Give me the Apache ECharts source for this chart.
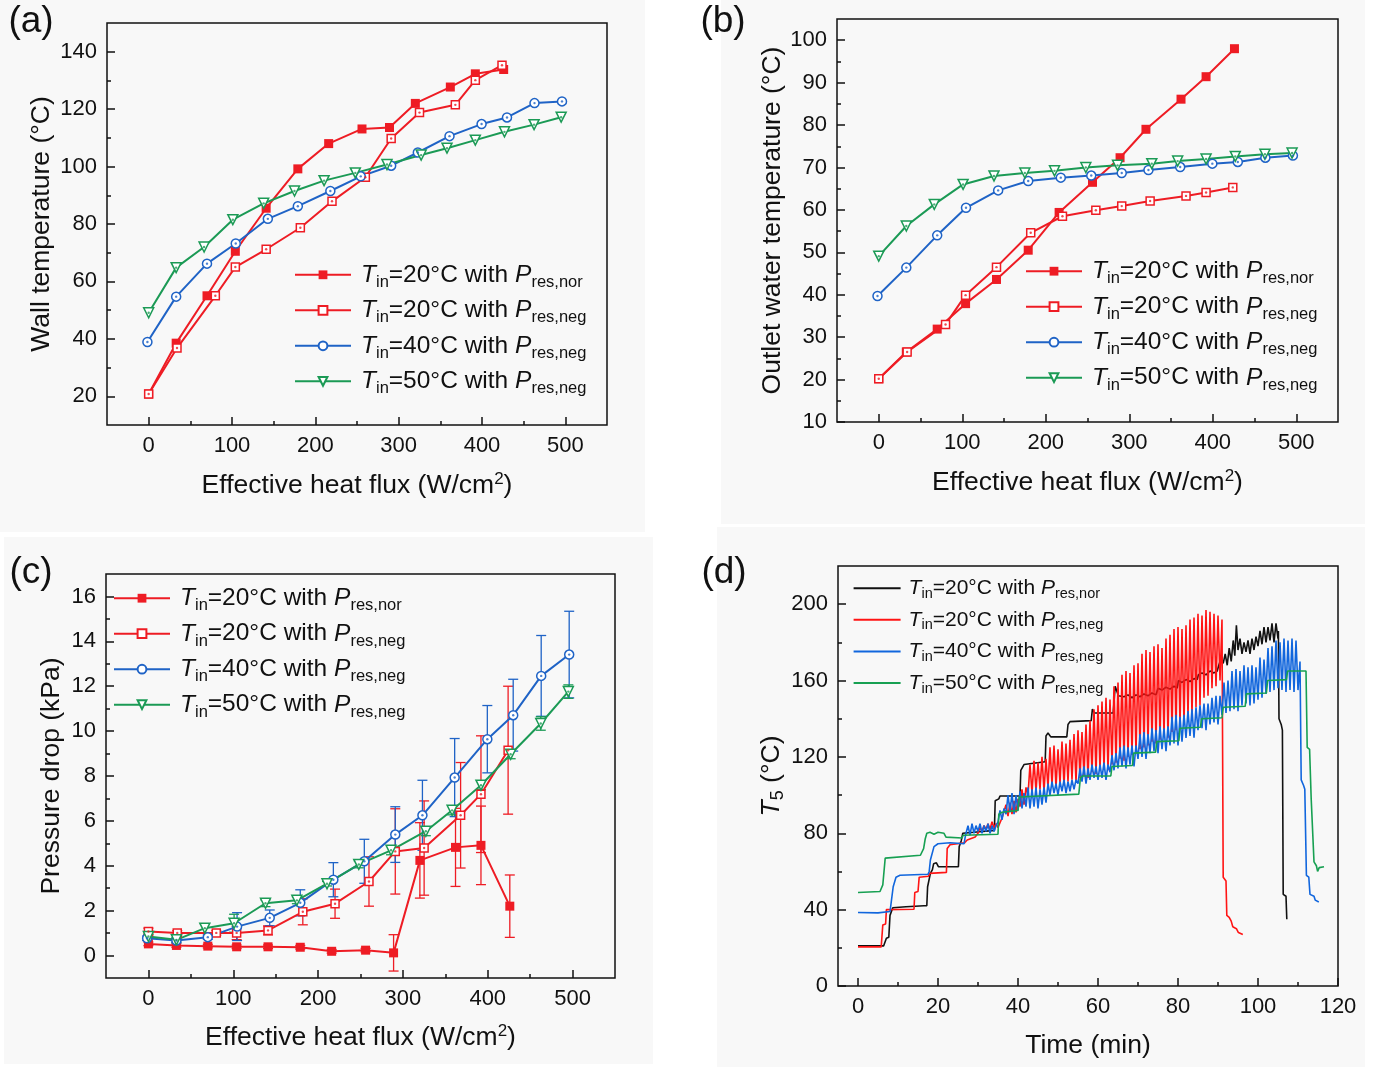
<!DOCTYPE html>
<html><head><meta charset="utf-8">
<script src="https://cdn.jsdelivr.net/npm/echarts@6/dist/echarts.min.js"></script>
<style>html,body{margin:0;padding:0;background:#fff}#c{width:1377px;height:1067px}</style>
</head><body><div id="c"></div>
<script>
// ---------------- DATA ----------------
// heat flux (W/cm2) for each test series
const qNor   = [0,33,70,104,141,179,216,256,289,320,362,392,426];
const qNeg20 = [0,34,80,104,141,182,220,260,291,325,368,392,424];
const q40    = [-1.5,33,70,104.5,143,179,218,254.5,291,323,361,399.5,430,463,496];
const q50    = [0,33,66.5,101,138,175,210.5,248,286,327,358,392,427,462.5,495];

// (a) wall temperature
const aNor   = [20.8,38.5,55,70.5,85.5,99.2,108,113.1,113.6,122,127.7,132.3,133.8];
const aNeg20 = [20.8,36.8,55,65,71.2,78.7,87.9,96.3,109.8,118.8,121.5,130.1,135.3];
const a40    = [38.9,54.7,66.2,73.2,81.8,86.2,91.5,96.6,100.3,104.9,110.6,114.8,117.1,122.1,122.7];
const a50    = [49.1,64.8,72,81.5,87.2,91.5,95.1,97.8,100.7,104,106.4,109.2,112.1,114.6,117.2];

// (b) outlet water temperature
const bNor   = [20.2,26.5,31.9,37.9,43.6,50.5,59.4,66.5,72.3,79.0,86.1,91.4,98.0];
const bNeg20 = [20.2,26.5,33.0,39.9,46.5,54.6,58.5,59.9,60.9,62.1,63.3,64.1,65.3];
const b40    = [39.7,46.4,54.0,60.5,64.6,66.8,67.6,68.1,68.7,69.4,70.1,70.9,71.3,72.3,72.8];
const b50    = [49.1,56.2,61.3,66.0,68.0,68.7,69.2,70.0,70.5,70.9,71.5,72.0,72.6,73.1,73.4];

// (c) pressure drop and error (half range)
const cNor      = [0.52,0.45,0.42,0.39,0.39,0.37,0.19,0.24,0.12,4.24,4.82,4.91,2.20];
const cNorErr   = [0.08,0.08,0.08,0.08,0.08,0.08,0.08,0.08,0.81,1.68,1.74,1.75,1.39];
const cNeg20    = [1.07,1.01,1.01,1.01,1.12,1.95,2.31,3.30,4.64,4.79,6.25,7.19,9.15];
const cNeg20Err = [0.15,0.1,0.1,0.3,0.2,0.58,0.65,1.1,1.9,2.1,2.35,2.6,2.85];
const c40       = [0.77,0.67,0.82,1.29,1.68,2.35,3.38,4.2,5.39,6.25,7.93,9.64,10.71,12.46,13.41];
const c40Err    = [0.1,0.1,0.1,0.62,0.35,0.58,0.76,0.98,1.24,1.56,1.74,1.5,1.6,1.8,1.93];
const c50       = [0.85,0.7,1.22,1.44,2.33,2.46,3.2,4.06,4.69,5.54,6.47,7.59,8.97,10.34,11.76];
const c50Err    = [0.1,0.1,0.2,0.4,0.15,0.15,0.1,0.15,0.2,0.2,0.2,0.2,0.2,0.3,0.3];

// (d) T5 vs time  [min, °C]
const dBlack = [[0,21],[6.4,21],[6.7,22],[7.1,25],[7.7,25.5],[8.0,37],[8.5,38],[8.7,41],[12,41.5],[16.5,42],[17.2,42],
 [17.4,52],[17.9,53],[18.1,59],[18.6,61],[18.9,64],[19.6,64.5],[20.1,62.5],[25.1,62.5],[25.3,73],[25.8,76],[26.2,80],
 [29,80.5],[29.3,81.5],[34.1,81.5],[34.3,97],[35.2,98],[35.5,99.5],[40.5,99.5],[40.7,113],[41.5,116],[42,117],[46.8,117.5],
 [47,131],[47.5,132.5],[48.2,130.5],[52.2,130.5],[52.5,137],[53,138.5],[58.3,139],[58.6,145],[59.1,143],[63.8,143],
 [64.1,143.5],[64.3,157],[64.8,158],[65.1,152],[66.5,151.5],[67.5,152.5],[68.5,151],[69.5,152.5],[70.5,151.5],[71.5,153],
 [72.5,152],[73.5,153.5],[74.5,152.5],[75,156],[76,155],[77,156.5],[78,155.5],[79,157],[79.8,156],[80.1,160],[81,159],
 [82,160.5],[83,159.5],[84,161],[84.8,160.5],[85.1,163],[86,164],[87,163],[88,165],[89,164],[89.8,165],[90.2,168],
 [90.8,172],[91.3,169],[91.8,174],[92.3,168],[92.8,177],[93.3,170],[93.8,181],[94.2,173],[94.6,189],[95,176],[95.5,182],
 [96,174],[96.5,180],[97,175],[97.5,181],[98,174],[98.5,182],[99,176],[99.5,183],[100,178],[100.5,186],[101,179],
 [101.5,188],[102,180],[102.5,188],[103,181],[103.5,190],[104,180],[104.5,190],[105,182],[105.1,186],[105.25,140],
 [105.8,137],[106.1,134],[106.3,48],[107.0,47],[107.2,35]];

const dRed = [[0,20.5],[5.8,20.5],[6.1,21],[6.2,32],[6.9,32.5],[7.1,40],[14.0,40.2],[14.2,49],[15.0,49.5],[15.3,57],
 [17.6,57.5],[17.9,59],[22.1,59.5],[22.3,72],[23,74],[26.6,75],[27.3,76.5],[29.3,78],[30,80],
 [30.5,83],[31,81],[31.5,84],[32,82],[32.5,85],[33,82],[33.5,86],[34,83],[34.5,85],[35,83],[35.5,84],[36,88],
 [36.5,88],[37,95],[37.5,89],[38,96],[38.5,90],[39,97],[39.5,91],[40,98],
 [40.5,94],[41,103],[41.5,95],[42,104],
 [42.5,100],[43,116],[43.5,101],[44,118],[44.5,102],[45,117],
 [45.5,103],[46,120],[46.5,102],[47,119],
 [47.5,104],[48,125],[48.5,105],[49,126],[49.5,104],[50,124],
 [50.5,106],[51,128],[51.5,105],[52,127],[52.5,107],[53,129],
 [53.5,108],[54,132],[54.5,107],[55,134],[55.5,109],[56,133],
 [56.5,110],[57,137],[57.5,109],[58,139],
 [58.5,112],[59,145],[59.5,111],[60,147],
 [60.5,113],[61,149],[61.5,114],[62,151],[62.5,113],[63,150],
 [63.5,116],[64,157],[64.5,117],[65,159],
 [65.5,119],[66,163],[66.5,118],[67,165],[67.5,120],[68,164],
 [68.5,121],[69,168],[69.5,122],[70,169],
 [70.5,124],[71,174],[71.5,125],[72,176],[72.5,126],[73,175],
 [73.5,128],[74,178],[74.5,127],[75,179],[75.5,129],[76,177],
 [76.5,131],[77,182],[77.5,130],[78,184],
 [78.5,133],[79,187],[79.5,134],[80,188],
 [80.5,137],[81,187],[81.5,138],[82,189],
 [82.5,141],[83,192],[83.5,142],[84,193],
 [84.5,146],[85,195],[85.5,147],[86,194],
 [86.5,151],[87,197],[87.5,152],[88,196],
 [88.5,156],[89,195],[89.5,157],[90,194],
 [90.5,160],[91,192],[91.3,57],[92,55],[92.2,37],[92.8,36],[93.3,34],[93.7,31],[94.6,30],[95.1,28],[96.2,27]];

const dBlue = [[0,38.5],[5,38.3],[8,39],[8.4,40],[8.8,52],[9.5,57],[10.5,58],[17.5,58.5],[17.8,60],[18.1,66],[19,73],
 [20,74.5],[23,75],[26.5,74.5],[26.8,78],
 [27,80],[27.5,84],[28,79],[28.5,85],[29,80],[29.5,84],[30,81],[30.5,85],[31,80],[31.5,84],[32,81],[32.5,85],[33,80],
 [33.5,84],[34,81],[34.5,84],
 [35,86],[35.5,92],[36,87],[36.5,93],
 [37,90],[37.5,100],[38,91],[38.5,101],[39,90],[39.5,100],[40,92],
 [40.5,102],[41,93],[41.5,101],[42,94],
 [42.5,104],[43,93],[43.5,103],[44,94],[44.5,104],[45,93],[45.5,103],[46,95],[46.5,104],[47,96],
 [47.5,106],[48,100],[48.5,107],[49,101],[49.5,106],[50,100],[50.5,107],
 [51,102],[51.5,108],[52,101],[52.5,107],[53,102],[53.5,108],[54,103],[54.5,108],
 [55,106],[55.5,114],[56,107],[56.5,115],[57,106],[57.5,114],
 [58,108],[58.5,116],[59,109],[59.5,115],[60,108],[60.5,116],[61,109],[61.5,117],[62,108],[62.5,116],
 [63,112],[63.5,121],[64,113],[64.5,122],
 [65,114],[65.5,125],[66,115],[66.5,126],[67,114],[67.5,125],[68,116],[68.5,126],[69,115],[69.5,126],
 [70,119],[70.5,132],[71,120],[71.5,133],[72,119],[72.5,132],
 [73,122],[73.5,135],[74,123],[74.5,134],[75,122],[75.5,136],[76,124],[76.5,135],[77,123],[77.5,136],
 [78,126],[78.5,141],[79,127],[79.5,142],[80,126],[80.5,141],[81,128],[81.5,142],
 [82,130],[82.5,144],[83,131],[83.5,145],[84,130],[84.5,146],
 [85,134],[85.5,147],[86,135],[86.5,148],[87,134],[87.5,148],
 [88,137],[88.5,151],[89,138],[89.5,152],[90,137],[90.5,152],
 [91,142],[91.5,159],[92,143],[92.5,160],
 [93,144],[93.5,165],[94,145],[94.5,166],[95,144],[95.5,165],
 [96,147],[96.5,168],[97,148],[97.5,167],[98,147],[98.5,168],[99,148],[99.5,167],
 [100,150],[100.5,172],[101,151],[101.5,171],
 [102,153],[102.5,177],[103,154],[103.5,178],
 [104,155],[104.5,181],[105,156],[105.5,180],[106,155],[106.5,182],
 [107,154],[107.5,181],[108,155],[108.5,182],[109,154],[109.5,181],[110,155],[110.5,170],
 [110.8,108],[111.4,105],[111.7,103],[112.1,58],[112.7,57],[113,48],[114,47],[114.3,45],[115.2,44]];

const dGreen = [[0,49],[5.5,49.5],[5.8,50],[6.2,53],[6.8,67],[7.2,68],[15.6,68.5],[16,69],[16.4,72],[16.8,77],[17.2,80],
 [18,80.5],[19,79.5],[20,80.5],[21.5,80],[22,78],[22.5,77],[26,77.5],[26.3,79],[35,79.5],[35.2,90],[36,91],[40,92],
 [40.3,99],[40.8,100],[55.2,100.5],[55.6,109],[56.2,110],[63.2,110],[63.5,115],[68.6,115.5],[68.9,122],[74.4,122.5],
 [74.7,128],[80.2,128.5],[80.5,135],[85.6,135.5],[85.9,140],[91,140.5],[91.3,146],[96.8,146.5],[97.1,153],[102.1,153.5],
 [102.4,160],[107.1,160.5],[107.4,165],[112,165],[112.3,125],[112.9,124],[113.3,98],[113.6,97],[114,65],[114.6,63],
 [114.9,60],[115.3,62],[116.5,62.5]];

// tick labels
const tFlux = [0,100,200,300,400,500];
const tFluxMinor = [50,150,250,350,450];
const tA = [20,40,60,80,100,120,140];
const tAMinor = [30,50,70,90,110,130];
const tB = [10,20,30,40,50,60,70,80,90,100];
const tBMinor = [15,25,35,45,55,65,75,85,95];
const tC = [0,2,4,6,8,10,12,14,16];
const tCMinor = [1,3,5,7,9,11,13,15];
const tDx = [0,20,40,60,80,100,120];
const tDxMinor = [10,30,50,70,90,110];
const tDy = [0,40,80,120,160,200];
const tDyMinor = [20,60,100,140,180];

// ---------------- STYLE ----------------
const FONT = '"Liberation Sans", Arimo, Arial, sans-serif';
const INK = '#111111';
const RED = '#ee1c24', BLUE = '#1f63c6', GREEN = '#1b9a55';
const dRED = '#ff1414', dBLUE = '#1166dd', dGREEN = '#17a052', dBLACK = '#111111';

const zip = (xs, ys) => xs.map((x, i) => [x, ys[i]]);

const grids = [
  {left:107, top:23, width:500, height:402},
  {left:837, top:19, width:501, height:403},
  {left:106, top:574, width:509, height:404},
  {left:838, top:566, width:500, height:420}
];

const TF = 26.5;
const nameRich = {
  n:{fontSize:TF, fontFamily:FONT, color:INK, lineHeight:30},
  i:{fontSize:TF, fontFamily:FONT, color:INK, lineHeight:30, fontStyle:'italic'},
  p:{fontSize:17, fontFamily:FONT, color:INK, lineHeight:16, verticalAlign:'top'},
  s:{fontSize:18, fontFamily:FONT, color:INK, lineHeight:17, verticalAlign:'bottom'}
};

function axisPair(g, min, max, major, minor, isY, name, gap) {
  const base = {gridIndex:g, type:'value', min, max, splitLine:{show:false},
    axisLine:{show:false, onZero:false}, position: isY ? 'left' : 'bottom'};
  const maj = Object.assign({}, base, {
    axisTick:{show:true, inside:true, length:8, lineStyle:{color:INK, width:1.5}, customValues:major},
    axisLabel:{show:true, customValues:major, color:INK, fontSize:22, fontFamily:FONT, margin:10},
    name, nameLocation:'middle', nameGap:gap, nameMoveOverlap:false,
    nameTextStyle:{fontSize:TF, fontFamily:FONT, color:INK, rich:nameRich}
  });
  const mnr = Object.assign({}, base, {
    axisTick:{show:true, inside:true, length:4, lineStyle:{color:INK, width:1.5}, customValues:minor},
    axisLabel:{show:false}
  });
  return [maj, mnr];
}

const FLUX = '{n|Effective heat flux (W/cm}{p|2}{n|)}';
const xAxis = [].concat(
  axisPair(0, -50, 550, tFlux, tFluxMinor, false, FLUX, 45.5),
  axisPair(1, -50, 550, tFlux, tFluxMinor, false, FLUX, 46),
  axisPair(2, -50, 550, tFlux, tFluxMinor, false, FLUX, 44.5),
  axisPair(3, -5, 120, tDx, tDxMinor, false, '{n|Time (min)}', 45)
);
const yAxis = [].concat(
  axisPair(0, 10, 150, tA, tAMinor, true, '{n|Wall temperature (°C)}', 50),
  axisPair(1, 10, 105, tB, tBMinor, true, '{n|Outlet water temperature (°C)}', 49),
  axisPair(2, -1, 17, tC, tCMinor, true, '{n|Pressure drop (kPa)}', 39),
  axisPair(3, 0, 220, tDy, tDyMinor, true, '{i|T}{s|5}{n| (°C)}', 51)
);

const LBL = {
  nor:  '{i|T}{s|in}{n|=20°C with }{i|P}{s|res,nor}',
  neg20:'{i|T}{s|in}{n|=20°C with }{i|P}{s|res,neg}',
  t40:  '{i|T}{s|in}{n|=40°C with }{i|P}{s|res,neg}',
  t50:  '{i|T}{s|in}{n|=50°C with }{i|P}{s|res,neg}'
};
const legRich = {
  n:{fontSize:24.5, fontFamily:FONT, color:INK, lineHeight:32},
  i:{fontSize:24.5, fontFamily:FONT, color:INK, lineHeight:32, fontStyle:'italic'},
  s:{fontSize:16.5, fontFamily:FONT, color:INK, lineHeight:16, verticalAlign:'bottom'}
};
const legRichD = {
  n:{fontSize:21, fontFamily:FONT, color:INK, lineHeight:26},
  i:{fontSize:21, fontFamily:FONT, color:INK, lineHeight:26, fontStyle:'italic'},
  s:{fontSize:14.5, fontFamily:FONT, color:INK, lineHeight:14, verticalAlign:'bottom'}
};

const MK = {
  nor:  {symbol:'rect', size:9, color:RED, fill:RED, dot:false, rot:0},
  neg20:{symbol:'rect', size:8, color:RED, fill:'#ffffff', dot:true, rot:0},
  t40:  {symbol:'circle', size:9, color:BLUE, fill:'#ffffff', dot:true, rot:0},
  t50:  {symbol:'triangle', size:10, color:GREEN, fill:'#ffffff', dot:true, rot:180}
};

const series = [];
function addLine(panel, key, xs, ys) {
  const m = MK[key];
  const data = zip(xs, ys);
  series.push({
    type:'line', name: panel + '_' + key, xAxisIndex: 2*panel, yAxisIndex: 2*panel, data,
    symbol:m.symbol, symbolSize:m.size, symbolRotate:m.rot, showAllSymbol:true,
    lineStyle:{color:m.color, width:2}, itemStyle:{color:m.fill, borderColor:m.color, borderWidth: m.dot ? 1.5 : 0},
    z:3, silent:true
  });
  if (m.dot) {
    series.push({type:'scatter', name: panel + '_' + key + '_dot', xAxisIndex:2*panel, yAxisIndex:2*panel, data,
      symbol:'circle', symbolSize:2.4, itemStyle:{color:m.color}, z:4, silent:true});
  }
}
function errRender(params, api) {
  const x = api.value(0), lo = api.value(1), hi = api.value(2);
  const p1 = api.coord([x, lo]), p2 = api.coord([x, hi]);
  const w = 5;
  const st = {stroke: api.visual('color'), lineWidth: 1.3, fill: null};
  return {type:'group', children:[
    {type:'line', shape:{x1:p1[0], y1:p1[1], x2:p2[0], y2:p2[1]}, style:st},
    {type:'line', shape:{x1:p1[0]-w, y1:p1[1], x2:p1[0]+w, y2:p1[1]}, style:st},
    {type:'line', shape:{x1:p2[0]-w, y1:p2[1], x2:p2[0]+w, y2:p2[1]}, style:st}
  ]};
}
function addErr(key, xs, ys, es) {
  series.push({type:'custom', name:'2_' + key + '_err', xAxisIndex:4, yAxisIndex:4,
    data: xs.map((x, i) => [x, ys[i] - es[i], ys[i] + es[i]]),
    encode:{x:0, y:[1,2]}, renderItem: errRender, itemStyle:{color: MK[key].color}, z:2, silent:true});
}

addLine(0, 'nor', qNor, aNor);  addLine(0, 'neg20', qNeg20, aNeg20);
addLine(0, 't40', q40, a40);    addLine(0, 't50', q50, a50);
addLine(1, 'nor', qNor, bNor);  addLine(1, 'neg20', qNeg20, bNeg20);
addLine(1, 't40', q40, b40);    addLine(1, 't50', q50, b50);
addErr('nor', qNor, cNor, cNorErr); addErr('neg20', qNeg20, cNeg20, cNeg20Err);
addErr('t40', q40, c40, c40Err);    addErr('t50', q50, c50, c50Err);
addLine(2, 'nor', qNor, cNor);  addLine(2, 'neg20', qNeg20, cNeg20);
addLine(2, 't40', q40, c40);    addLine(2, 't50', q50, c50);

const dSet = [['nor', dBlack, dBLACK], ['neg20', dRed, dRED], ['t40', dBlue, dBLUE], ['t50', dGreen, dGREEN]];
dSet.forEach(([key, data, col]) => {
  series.push({type:'line', name:'3_' + key, xAxisIndex:6, yAxisIndex:6, data, symbol:'none',
    lineStyle:{color:col, width:1.6}, itemStyle:{color:col}, z:3, silent:true});
});

function legend(panel, left, top, isD) {
  const cfg = {
    orient:'vertical', left, top, padding:0, selectedMode:false,
    itemGap: isD ? 8.1 : 7, itemWidth: isD ? 47 : 56, itemHeight: isD ? 2 : 11,
    data: ['nor','neg20','t40','t50'].map(k => panel + '_' + k),
    formatter: n => LBL[n.split('_')[1]],
    textStyle:{padding:[0,0,0, isD ? 3 : 5], rich: isD ? legRichD : legRich}
  };
  if (isD) cfg.icon = 'rect';
  return cfg;
}

const BG = '#f8f8f8';
const graphic = [
  {type:'rect', shape:{x:0, y:0, width:645, height:532}, style:{fill:BG}, z:-10, silent:true},
  {type:'rect', shape:{x:721, y:0, width:644, height:524}, style:{fill:BG}, z:-10, silent:true},
  {type:'rect', shape:{x:4, y:537, width:649, height:527}, style:{fill:BG}, z:-10, silent:true},
  {type:'rect', shape:{x:717, y:527, width:648, height:540}, style:{fill:BG}, z:-10, silent:true}
].concat([['(a)', 31, 22], ['(b)', 723, 22], ['(c)', 31, 573], ['(d)', 724, 573]].map(([t, x, y]) => ({
  type:'text', x, y, silent:true, z:10,
  style:{text:t, fontSize:37, fontFamily:FONT, fill:INK, align:'center', verticalAlign:'middle'}
})));

const chart = echarts.init(document.getElementById('c'), null, {renderer:'canvas'});
chart.setOption({
  animation:false,
  backgroundColor:'#ffffff',
  graphic,
  grid: grids.map(g => Object.assign({show:true, borderColor:INK, borderWidth:1.5, backgroundColor:'transparent'}, g)),
  xAxis, yAxis,
  legend: [legend(0, 294, 262.3, false), legend(1, 1025, 258.7, false), legend(2, 113, 585.7, false), legend(3, 853.6, 577.7, true)],
  series
});
</script></body></html>
